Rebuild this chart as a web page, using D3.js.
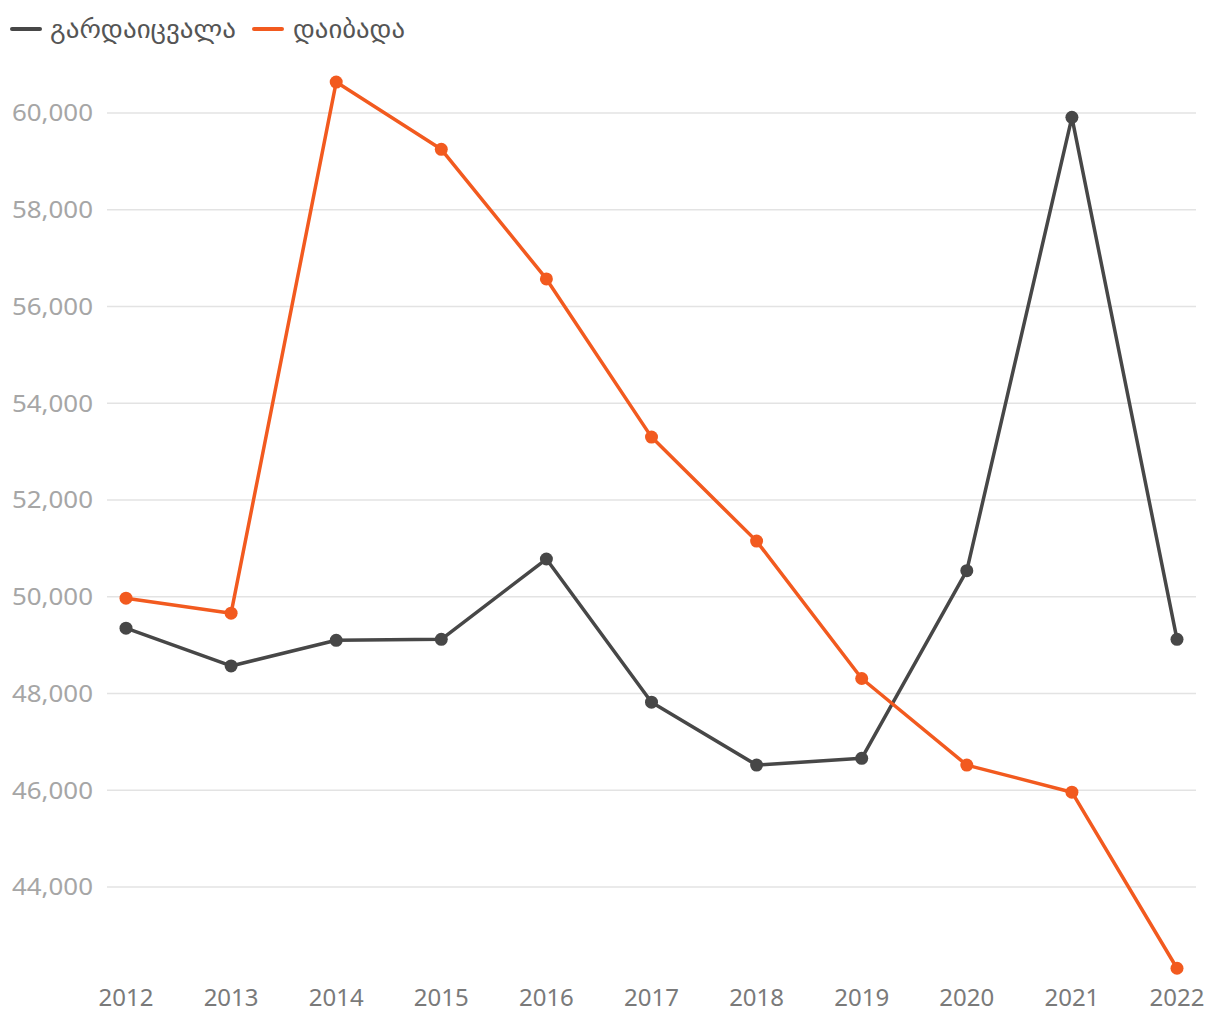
<!DOCTYPE html>
<html><head><meta charset="utf-8">
<script src="https://cdn.jsdelivr.net/npm/d3@7"></script>
<style>
body{margin:0;background:#fff;}
text{font-family:"Noto Sans","DejaVu Sans",sans-serif;}
</style></head>
<body><svg id="c" width="1220" height="1020"></svg>
<script>
const years = [2012,2013,2014,2015,2016,2017,2018,2019,2020,2021,2022];
const deaths = [49350,48570,49100,49120,50780,47820,46520,46660,50540,59910,49120];
const births = [49970,49660,60640,59250,56570,53300,51150,48310,46520,45960,42320];
const yTicks = [44000,46000,48000,50000,52000,54000,56000,58000,60000];
const seriesNames = ["გარდაიცვალა","დაიბადა"];
const colors = ["#474747","#f25a1f"];

const svg = d3.select("#c");
const x = d3.scalePoint().domain(years).range([126,1177]);
const y = d3.scaleLinear().domain([44000,60000]).range([887,113]);

const g = svg.append("g");
g.selectAll("line.grid").data(yTicks).join("line")
  .attr("x1",107).attr("x2",1196)
  .attr("y1",d=>y(d)).attr("y2",d=>y(d))
  .attr("stroke","#e3e3e3").attr("stroke-width",1.5);
g.selectAll("text.yl").data(yTicks).join("text")
  .attr("x",93).attr("y",d=>y(d)).attr("dy","0.35em")
  .attr("text-anchor","end").attr("fill","#a6a6a6").attr("font-size",24)
  .attr("textLength",81).attr("lengthAdjust","spacingAndGlyphs")
  .text(d=>d3.format(",")(d));
g.selectAll("text.xl").data(years).join("text")
  .attr("x",d=>x(d)).attr("y",1006)
  .attr("text-anchor","middle").attr("fill","#7a7a7a").attr("font-size",24)
  .text(d=>d);

const series = [deaths, births];
const line = d3.line().x((d,i)=>x(years[i])).y(d=>y(d));
series.forEach((s,k)=>{
  svg.append("path").datum(s).attr("d",line)
    .attr("fill","none").attr("stroke",colors[k]).attr("stroke-width",3.5)
    .attr("stroke-linejoin","round");
});
series.forEach((s,k)=>{
  svg.append("g").selectAll("circle").data(s).join("circle")
    .attr("cx",(d,i)=>x(years[i])).attr("cy",d=>y(d)).attr("r",6.5)
    .attr("fill",colors[k]);
});

const leg = [{x:12,tx:50,w:186},{x:254,tx:293,w:112}];
seriesNames.forEach((n,k)=>{
  svg.append("line").attr("x1",leg[k].x).attr("x2",leg[k].x+28)
    .attr("y1",29).attr("y2",29).attr("stroke",colors[k]).attr("stroke-width",4)
    .attr("stroke-linecap","round");
  svg.append("text").attr("x",leg[k].tx).attr("y",29).attr("dy","0.35em")
    .attr("fill","#555").attr("font-size",26)
    .attr("textLength",leg[k].w).attr("lengthAdjust","spacingAndGlyphs").text(n);
});
</script></body></html>
